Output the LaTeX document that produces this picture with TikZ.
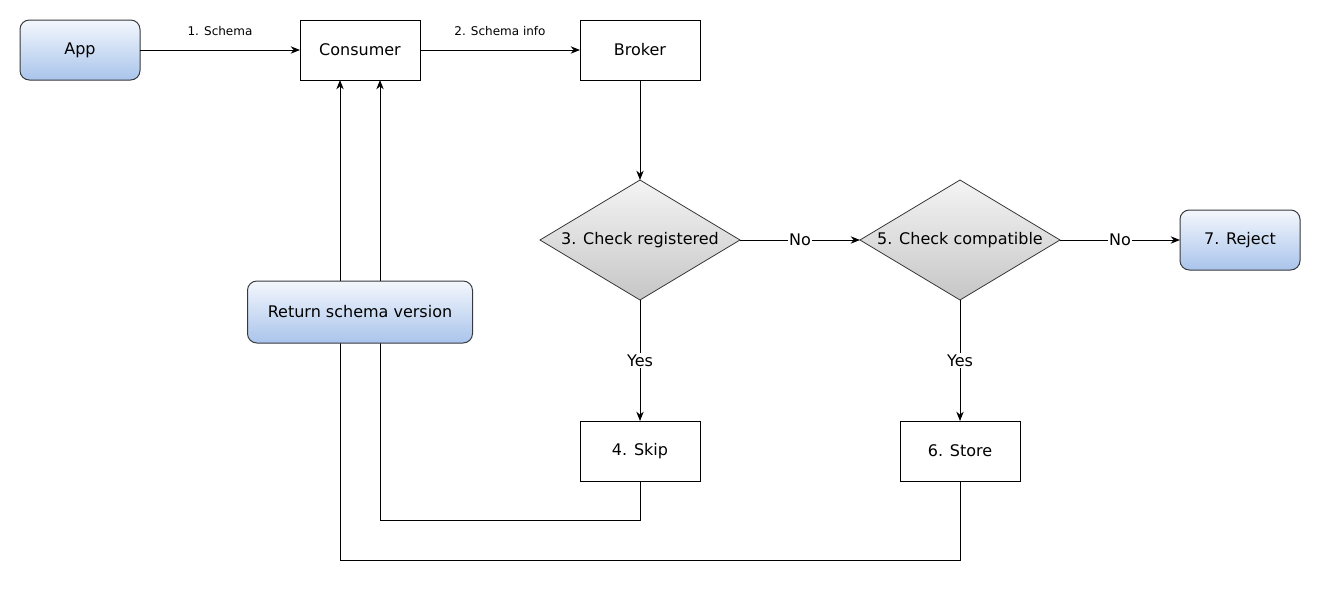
\documentclass[tikz,border=0pt]{standalone}
\usepackage{fontspec}
\setmainfont{DejaVu Sans}
\usetikzlibrary{arrows.meta,shapes.geometric}
\definecolor{bluetop}{HTML}{F4F7FD}
\definecolor{bluebot}{HTML}{A9C4EB}
\definecolor{graytop}{HTML}{F4F4F4}
\definecolor{graybot}{HTML}{C6C6C6}
\definecolor{edge}{HTML}{36393D}
\tikzset{
  box/.style={draw,line width=0.75pt,minimum width=90pt,minimum height=45pt,inner sep=0pt,outer sep=0pt,font=\fontsize{12}{14}\selectfont},
  bluebox/.style={box,draw=edge,rounded corners=7pt,top color=bluetop,bottom color=bluebot},
  decision/.style={box,diamond,draw=edge,line width=0.6pt,minimum width=150pt,minimum height=90pt,top color=graytop,bottom color=graybot},
  lbl/.style={font=\fontsize{9}{11}\selectfont,inner sep=0pt},
  yesno/.style={font=\fontsize{12}{14}\selectfont,fill=white,inner sep=1pt}
}

\begin{document}
\begin{tikzpicture}[x=0.75pt,y=-0.75pt,line width=0.75pt,>={Stealth[length=7pt,width=5.5pt]}]
\useasboundingbox (0,0) rectangle (1321,589);
% top row
\node[bluebox] (app) at (80,50) {App};
\node[box] (consumer) at (360,50) {Consumer};
\node[box] (broker) at (640,50) {Broker};
% checks
\node[decision] (chkreg) at (640,240) {\makebox[0pt]{3. Check registered}};
\node[decision] (chkcomp) at (960,240) {\makebox[0pt]{5. Check compatible}};
\node[bluebox] (reject) at (1240,240) {7. Reject};
\node[box] (skip) at (640,451) {4. Skip};
\node[box] (store) at (960,451) {6. Store};
% connectors
\draw[->] (app) -- node[lbl,above=10pt]{1. Schema} (consumer);
\draw[->] (consumer) -- node[lbl,above=10pt]{2. Schema info} (broker);
\draw[->] (broker) -- (chkreg);
\draw[->] (chkreg) -- node[yesno]{No} (chkcomp);
\draw[->] (chkcomp) -- node[yesno]{No} (reject);
\draw[->] (chkreg) -- node[yesno]{Yes} (skip);
\draw[->] (chkcomp) -- node[yesno]{Yes} (store);
\draw[->] (skip.south) -- ++(0,39) -| ([xshift=15pt]consumer.south);
\draw[->] (store.south) -- ++(0,79) -| ([xshift=-15pt]consumer.south);
% drawn last, over the return lines
\node[bluebox,minimum width=168.75pt,minimum height=46.5pt] (ret) at (360,312) {Return schema version};
\end{tikzpicture}
\end{document}
